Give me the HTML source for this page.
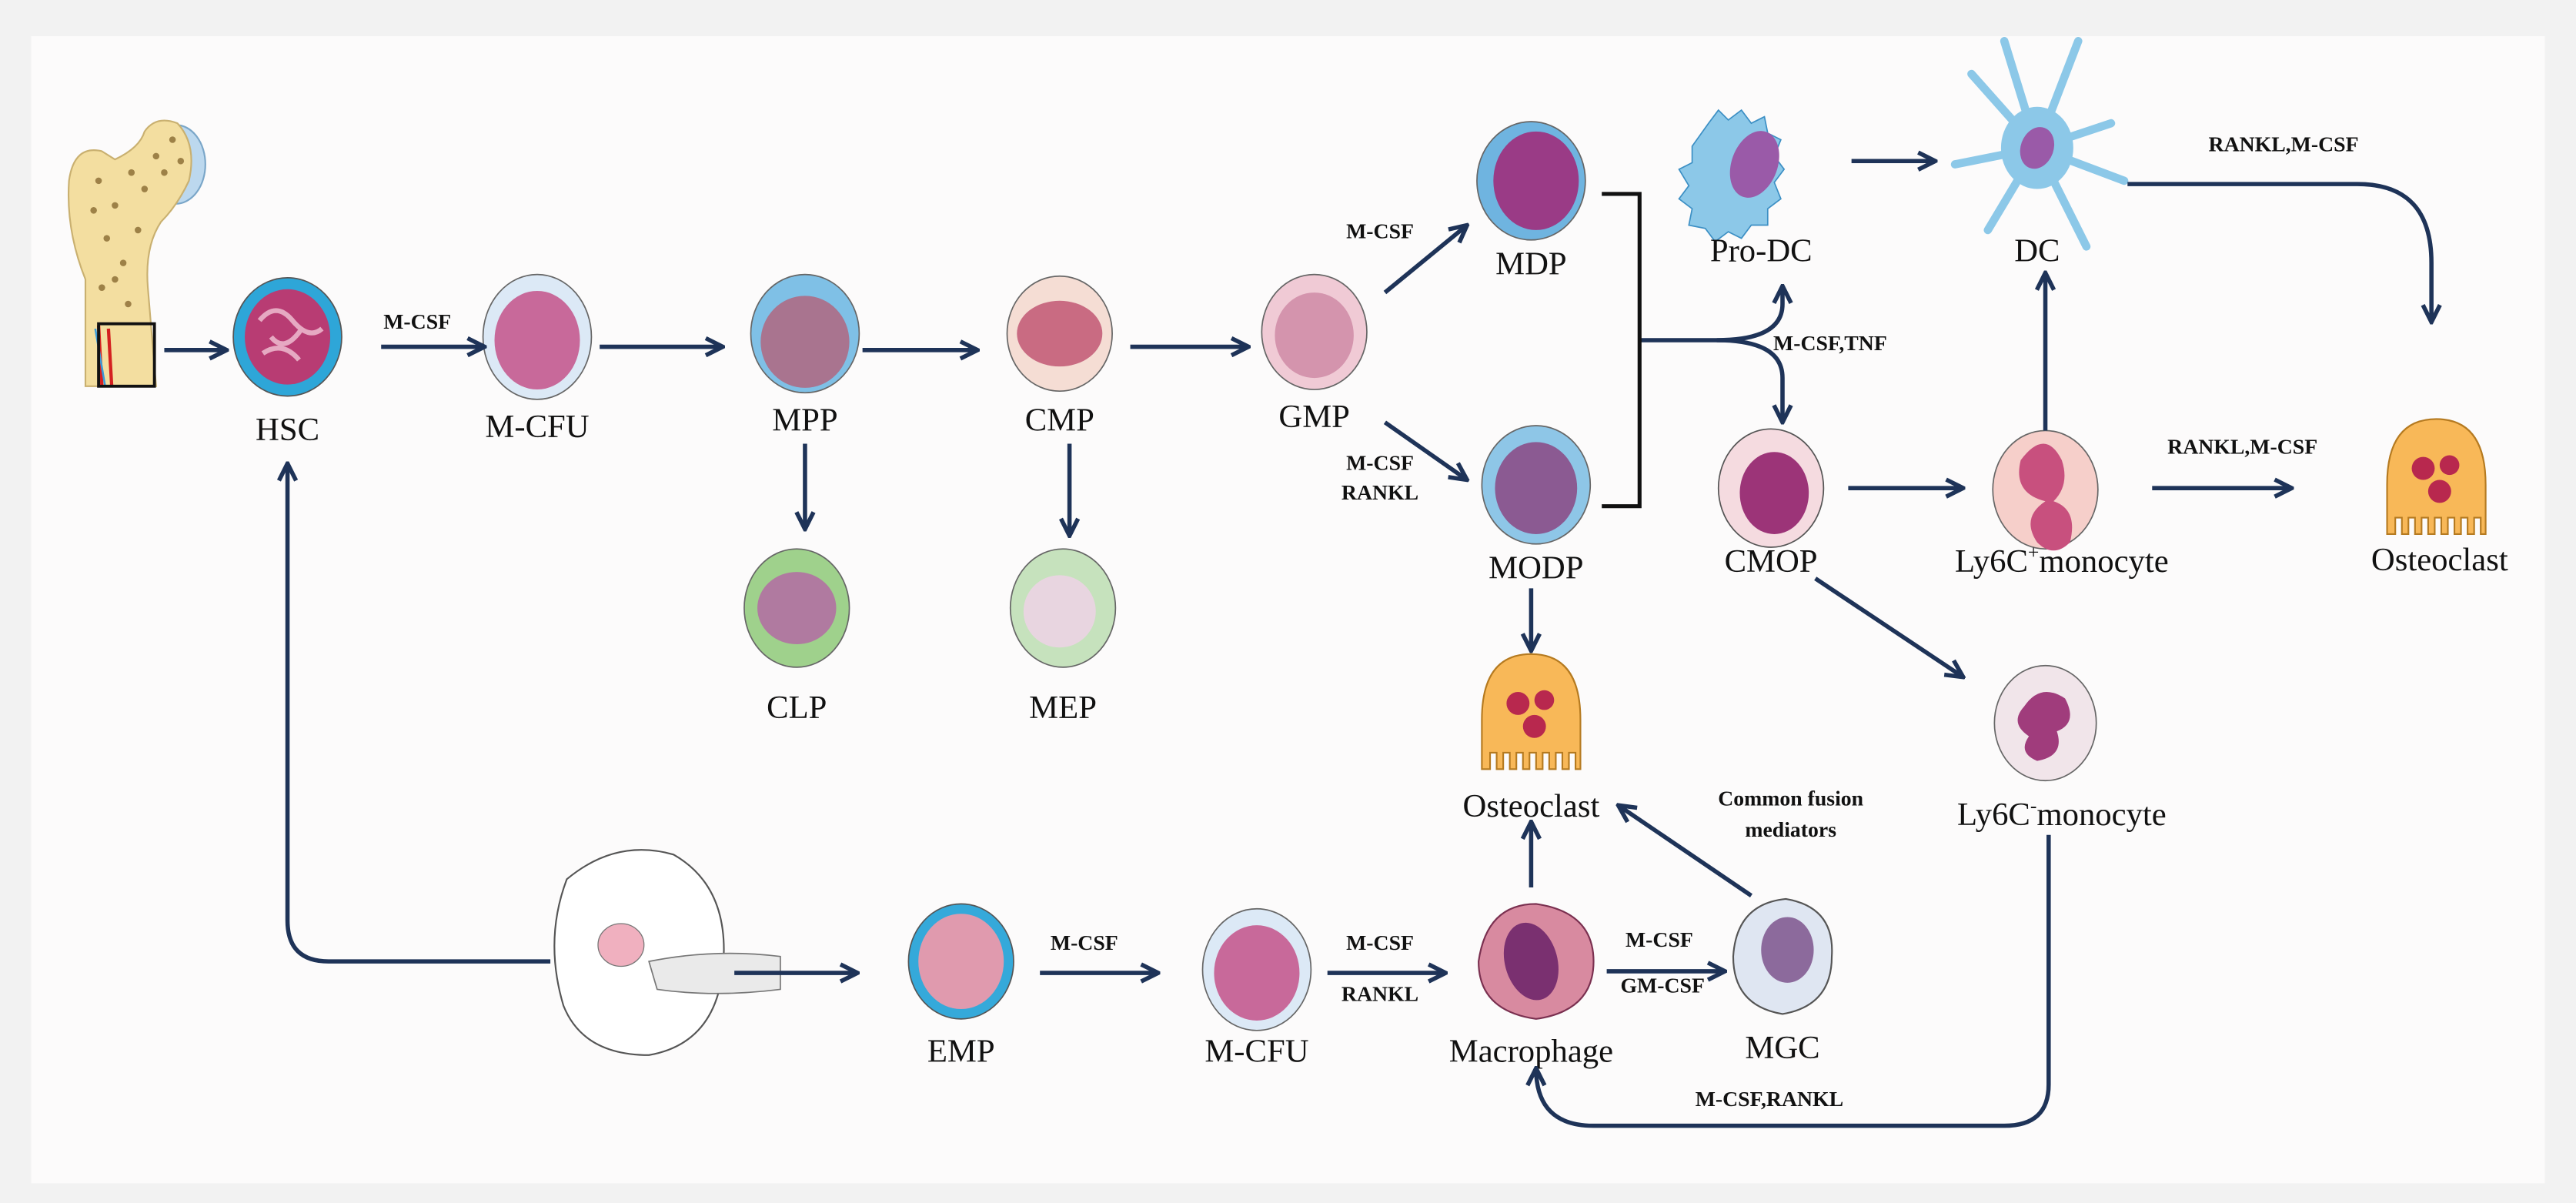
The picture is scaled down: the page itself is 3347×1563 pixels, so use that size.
<!DOCTYPE html>
<html><head><meta charset="utf-8"><style>
html,body{margin:0;padding:0;background:#f2f2f2;}
svg{display:block;}
text{font-family:"Liberation Serif",serif;}
.l{font-size:20px;text-anchor:middle;fill:#111;}
.b{font-size:13px;font-weight:bold;text-anchor:middle;fill:#111;}
.a{stroke:#1e3358;stroke-width:2.6;fill:none;}
</style></head><body>
<svg width="3347" height="1563" viewBox="0 0 1568 732" preserveAspectRatio="none" xmlns="http://www.w3.org/2000/svg">
<defs>
<marker id="m" viewBox="0 0 10 10" refX="9" refY="5" markerWidth="5" markerHeight="5" orient="auto" markerUnits="strokeWidth"><path d="M1,1 L9,5 L1,9" fill="none" stroke="#1e3358" stroke-width="2"/></marker>
<g id="oc">
<path d="M-30,30 L-30,0 Q-30,-40 0,-40 Q30,-40 30,0 L30,30 l-3,0 0,-10 -4,0 0,10 -4,0 0,-10 -4,0 0,10 -4,0 0,-10 -4,0 0,10 -4,0 0,-10 -4,0 0,10 -4,0 0,-10 -4,0 0,10 -4,0 0,-10 -4,0 0,10 -4,0 0,-10 -4,0 0,10 z" fill="#f8b858" stroke="#b57a20" stroke-width="1"/>
<circle cx="-8" cy="-10" r="7" fill="#b8284e"/><circle cx="8" cy="-12" r="6" fill="#b8284e"/><circle cx="2" cy="4" r="7" fill="#b8284e"/>
</g>
</defs>
<rect x="0" y="0" width="1568" height="732" fill="#f2f2f2"/>
<rect x="19" y="22" width="1530" height="698" fill="#fcfbfb"/>

<!-- bone -->
<ellipse cx="107" cy="100" rx="18" ry="24" fill="#bcd8ee" stroke="#7aa6c8" stroke-width="1"/>
<path d="M52,235 L52,170 Q40,140 42,110 Q45,88 62,92 L70,97 Q85,90 88,80 Q95,70 108,75 Q120,88 115,110 Q108,125 98,135 Q88,150 90,175 L95,235 Z" fill="#f3dea0" stroke="#c9b070" stroke-width="1"/>
<g fill="#7a5a22" opacity=".7"><circle cx="60" cy="110" r="2"/><circle cx="70" cy="125" r="2"/><circle cx="80" cy="105" r="2"/><circle cx="65" cy="145" r="2"/><circle cx="75" cy="160" r="2"/><circle cx="95" cy="95" r="2"/><circle cx="105" cy="85" r="2"/><circle cx="62" cy="175" r="2"/><circle cx="78" cy="185" r="2"/><circle cx="88" cy="115" r="2"/><circle cx="100" cy="105" r="2"/><circle cx="57" cy="128" r="2"/><circle cx="84" cy="140" r="2"/><circle cx="70" cy="170" r="2"/><circle cx="110" cy="98" r="2"/></g>
<path d="M60,198 L62,235 M66,200 L68,235" stroke="#d42020" stroke-width="2"/>
<path d="M58,200 L64,235" stroke="#3a9bd9" stroke-width="1.2"/>
<rect x="60" y="197" width="34" height="38" fill="none" stroke="#111" stroke-width="1.8"/>

<!-- top row cells -->
<ellipse cx="175" cy="205" rx="33" ry="36" fill="#2ea6d8" stroke="#555" stroke-width=".8"/>
<ellipse cx="175" cy="205" rx="26" ry="29" fill="#b83c73"/>
<path d="M158,195 q10,-12 20,0 t18,5 M160,215 q12,-8 22,4 M165,205 q8,10 18,-4" stroke="#e6a9c2" stroke-width="3" fill="none"/>
<text class="l" x="175" y="268">HSC</text>

<ellipse cx="327" cy="205" rx="33" ry="38" fill="#dce9f6" stroke="#666" stroke-width=".8"/>
<ellipse cx="327" cy="207" rx="26" ry="30" fill="#c8699a"/>
<text class="l" x="327" y="266">M-CFU</text>

<ellipse cx="490" cy="203" rx="33" ry="36" fill="#7fc0e6" stroke="#666" stroke-width=".8"/>
<ellipse cx="490" cy="208" rx="27" ry="28" fill="#a9748f"/>
<text class="l" x="490" y="262">MPP</text>

<ellipse cx="645" cy="203" rx="32" ry="35" fill="#f5ddd4" stroke="#666" stroke-width=".8"/>
<ellipse cx="645" cy="203" rx="26" ry="20" fill="#c96b82"/>
<text class="l" x="645" y="262">CMP</text>

<ellipse cx="800" cy="202" rx="32" ry="35" fill="#f0cad5" stroke="#666" stroke-width=".8"/>
<ellipse cx="800" cy="204" rx="24" ry="26" fill="#d494ad"/>
<text class="l" x="800" y="260">GMP</text>

<ellipse cx="485" cy="370" rx="32" ry="36" fill="#9fd18c" stroke="#666" stroke-width=".8"/>
<ellipse cx="485" cy="370" rx="24" ry="22" fill="#b07aa0"/>
<text class="l" x="485" y="437">CLP</text>

<ellipse cx="647" cy="370" rx="32" ry="36" fill="#c6e2bd" stroke="#666" stroke-width=".8"/>
<ellipse cx="645" cy="372" rx="22" ry="22" fill="#e8d5e0"/>
<text class="l" x="647" y="437">MEP</text>

<ellipse cx="932" cy="110" rx="33" ry="36" fill="#6fb4e0" stroke="#666" stroke-width=".8"/>
<ellipse cx="935" cy="110" rx="26" ry="30" fill="#9a3b86"/>
<text class="l" x="932" y="167">MDP</text>

<ellipse cx="935" cy="295" rx="33" ry="36" fill="#8ec6e7" stroke="#666" stroke-width=".8"/>
<ellipse cx="935" cy="297" rx="25" ry="28" fill="#8b5a92"/>
<text class="l" x="935" y="352">MODP</text>

<path d="M1040,75 l6,-8 6,6 8,-6 6,8 8,-4 2,10 8,4 -4,10 6,8 -6,8 4,10 -8,6 0,10 -10,0 -6,8 -8,-4 -8,6 -6,-8 -10,-2 2,-10 -8,-6 6,-8 -6,-10 8,-4 0,-10 z" fill="#8cc8e8" stroke="#3c8fc4" stroke-width=".8"/>
<ellipse cx="1068" cy="100" rx="14" ry="21" fill="#9a5aa8" transform="rotate(20 1068 100)"/>
<text class="l" x="1072" y="159">Pro-DC</text>

<g stroke="#8cc8e8" stroke-width="5" stroke-linecap="round" fill="none">
<path d="M1240,90 L1200,45 M1240,90 L1220,25 M1240,90 L1265,25 M1240,90 L1293,110 M1240,90 L1210,140 M1240,90 L1270,150 M1240,90 L1190,100 M1240,90 L1285,75"/>
</g>
<ellipse cx="1240" cy="90" rx="22" ry="25" fill="#8cc8e8"/>
<ellipse cx="1240" cy="90" rx="10" ry="13" fill="#9a5aa8" transform="rotate(20 1240 90)"/>
<text class="l" x="1240" y="159">DC</text>

<ellipse cx="1078" cy="297" rx="32" ry="36" fill="#f5dbe0" stroke="#555" stroke-width=".8"/>
<ellipse cx="1080" cy="300" rx="21" ry="25" fill="#9c3478"/>
<text class="l" x="1078" y="348">CMOP</text>

<ellipse cx="1245" cy="298" rx="32" ry="36" fill="#f6cfca" stroke="#666" stroke-width=".8"/>
<path d="M1230,280 q15,-20 25,0 q5,15 -5,25 q15,5 10,25 q-10,10 -20,0 q-10,-15 5,-25 q-20,-5 -15,-25z" fill="#c8507e"/>
<text class="l" x="1255" y="348">Ly6C<tspan font-size="12" dy="-8">+</tspan><tspan dy="8">monocyte</tspan></text>

<ellipse cx="1245" cy="440" rx="31" ry="35" fill="#f1e5ea" stroke="#666" stroke-width=".8"/>
<path d="M1232,430 q10,-15 25,-5 q8,15 -5,20 q5,15 -12,18 q-12,-5 -5,-15 q-12,-8 -3,-18z" fill="#a03c7c"/>
<text class="l" x="1255" y="502">Ly6C<tspan font-size="12" dy="-8">-</tspan><tspan dy="8">monocyte</tspan></text>

<use href="#oc" x="1483" y="295"/>
<use href="#oc" x="932" y="438"/>
<text class="l" x="1485" y="347">Osteoclast</text>
<text class="l" x="932" y="497">Osteoclast</text>

<!-- embryo -->
<path d="M345,535 q30,-25 65,-15 q35,20 30,70 q-5,45 -45,52 q-40,0 -52,-30 q-12,-40 2,-77z" fill="#fff" stroke="#555" stroke-width="1"/>
<path d="M395,585 q40,-8 80,-3 l0,20 q-40,5 -75,0z" fill="#eaeaea" stroke="#777" stroke-width=".8"/>
<ellipse cx="378" cy="575" rx="14" ry="13" fill="#f0b0bf" stroke="#777" stroke-width=".6"/>

<ellipse cx="585" cy="585" rx="32" ry="35" fill="#35a9da" stroke="#555" stroke-width=".8"/>
<ellipse cx="585" cy="585" rx="26" ry="29" fill="#e09aae"/>
<text class="l" x="585" y="646">EMP</text>

<ellipse cx="765" cy="590" rx="33" ry="37" fill="#dce9f6" stroke="#666" stroke-width=".8"/>
<ellipse cx="765" cy="592" rx="26" ry="29" fill="#c8699a"/>
<text class="l" x="765" y="646">M-CFU</text>

<path d="M900,585 q5,-35 35,-35 q35,5 35,35 q0,30 -35,35 q-35,-5 -35,-35z" fill="#d88aa0" stroke="#7a3050" stroke-width="1"/>
<ellipse cx="932" cy="585" rx="16" ry="24" fill="#7a3070" transform="rotate(-15 932 585)"/>
<text class="l" x="932" y="646">Macrophage</text>

<path d="M1055,582 q2,-32 32,-35 q30,5 28,35 q0,30 -30,35 q-30,-5 -30,-35z" fill="#dfe6f2" stroke="#555" stroke-width="1"/>
<ellipse cx="1088" cy="578" rx="16" ry="20" fill="#8c6a9c"/>
<text class="l" x="1085" y="644">MGC</text>

<!-- arrows -->
<g class="a">
<line x1="100" y1="213" x2="138" y2="213" marker-end="url(#m)"/>
<line x1="232" y1="211" x2="295" y2="211" marker-end="url(#m)"/>
<line x1="365" y1="211" x2="440" y2="211" marker-end="url(#m)"/>
<line x1="525" y1="213" x2="595" y2="213" marker-end="url(#m)"/>
<line x1="688" y1="211" x2="760" y2="211" marker-end="url(#m)"/>
<line x1="490" y1="270" x2="490" y2="322" marker-end="url(#m)"/>
<line x1="651" y1="270" x2="651" y2="326" marker-end="url(#m)"/>
<line x1="843" y1="178" x2="893" y2="137" marker-end="url(#m)"/>
<line x1="843" y1="257" x2="893" y2="292" marker-end="url(#m)"/>
<path d="M998,207 L1045,207 Q1085,207 1085,185 L1085,174" marker-end="url(#m)"/>
<path d="M1045,207 Q1085,207 1085,230 L1085,257" marker-end="url(#m)"/>
<line x1="1127" y1="98" x2="1178" y2="98" marker-end="url(#m)"/>
<path d="M1295,112 L1435,112 Q1480,112 1480,160 L1480,196" marker-end="url(#m)"/>
<line x1="1125" y1="297" x2="1195" y2="297" marker-end="url(#m)"/>
<line x1="1245" y1="262" x2="1245" y2="166" marker-end="url(#m)"/>
<line x1="1310" y1="297" x2="1395" y2="297" marker-end="url(#m)"/>
<line x1="1105" y1="352" x2="1195" y2="412" marker-end="url(#m)"/>
<line x1="932" y1="358" x2="932" y2="396" marker-end="url(#m)"/>
<path d="M1247,508 L1247,660 Q1247,685 1220,685 L970,685 Q935,685 935,650" marker-end="url(#m)"/>
<path d="M335,585 L200,585 Q175,585 175,560 L175,282" marker-end="url(#m)"/>
<line x1="447" y1="592" x2="522" y2="592" marker-end="url(#m)"/>
<line x1="633" y1="592" x2="705" y2="592" marker-end="url(#m)"/>
<line x1="808" y1="592" x2="880" y2="592" marker-end="url(#m)"/>
<line x1="932" y1="540" x2="932" y2="500" marker-end="url(#m)"/>
<line x1="978" y1="591" x2="1050" y2="591" marker-end="url(#m)"/>
<line x1="1066" y1="545" x2="985" y2="490" marker-end="url(#m)"/>
</g>
<path d="M975,118 L998,118 L998,308 L975,308" fill="none" stroke="#111" stroke-width="2.4"/>

<!-- labels -->
<text class="b" x="254" y="200">M-CSF</text>
<text class="b" x="840" y="145">M-CSF</text>
<text class="b" x="840" y="286">M-CSF</text>
<text class="b" x="840" y="304">RANKL</text>
<text class="b" x="1114" y="213">M-CSF,TNF</text>
<text class="b" x="1390" y="92">RANKL,M-CSF</text>
<text class="b" x="1365" y="276">RANKL,M-CSF</text>
<text class="b" x="1090" y="490">Common fusion</text>
<text class="b" x="1090" y="509">mediators</text>
<text class="b" x="660" y="578">M-CSF</text>
<text class="b" x="840" y="578">M-CSF</text>
<text class="b" x="840" y="609">RANKL</text>
<text class="b" x="1010" y="576">M-CSF</text>
<text class="b" x="1012" y="604">GM-CSF</text>
<text class="b" x="1077" y="673">M-CSF,RANKL</text>
</svg>
</body></html>
